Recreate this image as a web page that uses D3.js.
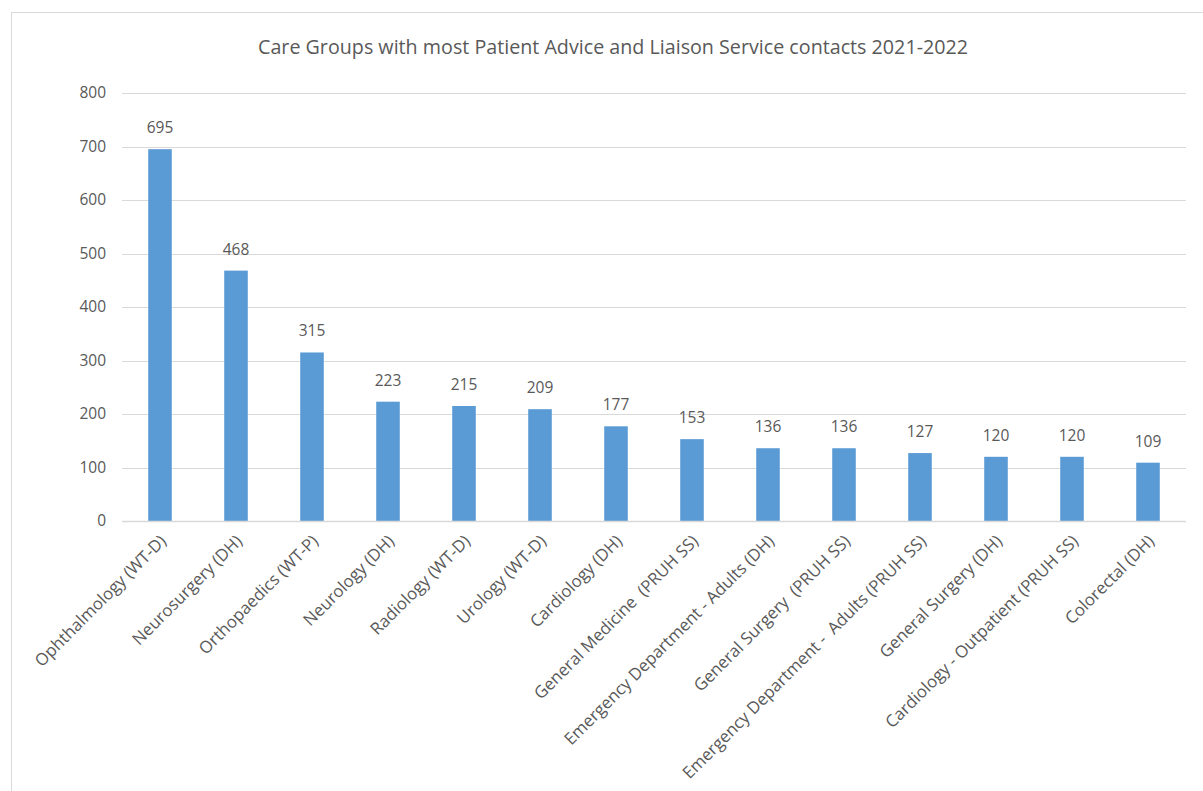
<!DOCTYPE html>
<html><head><meta charset="utf-8">
<script src="https://cdn.jsdelivr.net/npm/d3@7"></script>
<style>
html,body{margin:0;padding:0;background:#fff;}
svg text{font-family:"Open Sans",sans-serif;fill:#595959;white-space:pre;}
</style></head>
<body>
<svg id="chart" width="1203" height="791"></svg>
<script>
const categories = ["Ophthalmology (WT-D)","Neurosurgery (DH)","Orthopaedics (WT-P)","Neurology (DH)","Radiology (WT-D)","Urology (WT-D)","Cardiology (DH)","General Medicine  (PRUH SS)","Emergency Department - Adults (DH)","General Surgery  (PRUH SS)","Emergency Department -  Adults (PRUH SS)","General Surgery (DH)","Cardiology - Outpatient (PRUH SS)","Colorectal (DH)"];
const values = [695,468,315,223,215,209,177,153,136,136,127,120,120,109];
const yTicks = [0,100,200,300,400,500,600,700,800];
const title = "Care Groups with most Patient Advice and Liaison Service contacts 2021-2022";

(function(){
const svg = d3.select("#chart");
svg.append("rect").attr("x",11.5).attr("y",12.5).attr("width",1203).attr("height",800)
  .attr("fill","#fff").attr("stroke","#d9d9d9").attr("stroke-width",1);

const pL=122, pR=1186, pT=93, pB=521;
const x = d3.scaleBand().domain(categories).range([pL,pR]).paddingInner(0.69).paddingOuter(0.345);
const y = d3.scaleLinear().domain([0,800]).range([pB,pT]);

svg.append("text").attr("x",613).attr("y",54).attr("text-anchor","middle")
  .style("font-size","19.7px").text(title);

svg.append("g").selectAll("line").data(yTicks.filter(d=>d>0)).join("line")
  .attr("x1",pL).attr("x2",pR).attr("y1",d=>Math.round(y(d))+0.5).attr("y2",d=>Math.round(y(d))+0.5)
  .attr("stroke","#d9d9d9").attr("stroke-width",1);

const yAxis = d3.axisLeft(y).tickValues(yTicks).tickSize(0).tickPadding(0);
const gy = svg.append("g").attr("transform",`translate(${pL-16},0)`).call(yAxis);
gy.select(".domain").remove();
gy.selectAll("text").style("font-size","15.5px").attr("fill","#595959").style("font-family","Open Sans");

svg.append("g").selectAll("rect").data(values).join("rect")
  .attr("x",(d,i)=>x(categories[i])).attr("width",x.bandwidth())
  .attr("y",d=>y(d)).attr("height",d=>y(0)-y(d)).attr("fill","#5b9bd5");

svg.append("line").attr("x1",pL).attr("x2",pR).attr("y1",pB+0.5).attr("y2",pB+0.5)
  .attr("stroke","#d9d9d9").attr("stroke-width",1.5);

svg.append("g").selectAll("text").data(values).join("text")
  .attr("x",(d,i)=>x(categories[i])+x.bandwidth()/2).attr("y",d=>y(d)-16)
  .attr("text-anchor","middle").style("font-size","15.5px").text(d=>d);

const xAxis = d3.axisBottom(x).tickSize(0).tickPadding(0);
const gx = svg.append("g").attr("transform",`translate(0,${pB})`).call(xAxis);
gx.select(".domain").remove();
gx.selectAll("text").style("font-size","16.8px").attr("fill","#595959").style("font-family","Open Sans")
  .attr("text-anchor","end").attr("dy","0.35em")
  .attr("transform","translate(3,17) rotate(-45)");
})();
</script>
</body></html>
